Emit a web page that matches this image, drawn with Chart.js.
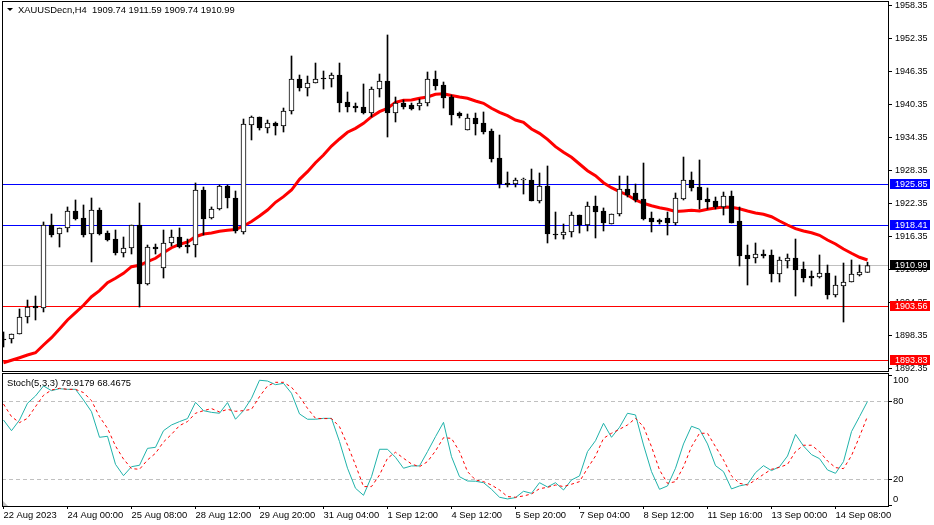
<!DOCTYPE html>
<html>
<head>
<meta charset="utf-8">
<title>XAUUSDecn,H4</title>
<script src="https://cdn.jsdelivr.net/npm/chart.js@4"></script>
<style>
  html, body { margin: 0; padding: 0; background: #fff; }
  body { width: 934px; height: 525px; overflow: hidden; position: relative; }
  canvas { position: absolute; left: 0; }
  #priceChart { top: 0; }
  #stochChart { top: 372px; }
</style>
</head>
<body>
<canvas id="priceChart" width="934" height="372"></canvas>
<canvas id="stochChart" width="934" height="153"></canvas>
<script>
const opens = [
  1897.62,1897.62,1898.53,1901.63,1903.62,1903.26,1918.35,1916.71,1917.81,1920.90,
  1919.63,1916.71,1921.08,1916.89,1915.80,1913.26,1914.17,1918.35,1907.62,1914.35,
  1910.53,1915.08,1916.17,1914.71,1914.71,1924.71,1919.63,1921.26,1925.44,1923.26,
  1917.08,1936.53,1937.99,1935.99,1936.89,1936.35,1939.08,1944.89,1943.26,1944.17,
  1945.08,1944.89,1945.62,1940.71,1939.99,1939.80,1938.71,1943.08,1944.53,1938.71,
  1940.53,1940.17,1939.99,1940.53,1944.89,1943.80,1941.62,1938.71,1935.62,1937.81,
  1936.89,1935.44,1930.53,1925.99,1925.80,1926.53,1926.53,1922.72,1925.44,1916.71,
  1916.53,1917.08,1920.17,1918.35,1921.81,1920.90,1918.53,1920.35,1924.89,1924.17,
  1923.08,1919.63,1919.26,1919.63,1918.71,1923.08,1926.53,1925.26,1923.08,1922.72,
  1921.63,1923.62,1919.08,1912.90,1912.35,1913.08,1912.90,1909.44,1911.81,1912.35,
  1910.35,1909.08,1908.90,1909.62,1905.62,1907.26,1907.99,1909.26,1909.74
];
const highs = [
  1898.90,1898.53,1903.08,1904.71,1905.44,1918.90,1920.35,1917.81,1921.63,1922.90,
  1921.99,1923.26,1921.45,1917.26,1917.44,1916.17,1918.35,1922.35,1914.71,1914.89,
  1917.44,1917.44,1917.81,1915.80,1925.99,1925.26,1921.63,1925.62,1925.62,1924.53,
  1937.62,1938.17,1937.99,1937.44,1937.08,1939.62,1949.08,1945.62,1945.44,1947.80,
  1946.35,1945.99,1947.80,1942.53,1940.53,1943.99,1943.44,1945.80,1952.90,1941.62,
  1941.08,1940.53,1941.26,1946.17,1946.35,1944.35,1941.99,1938.90,1938.53,1938.71,
  1938.90,1935.80,1934.71,1927.99,1926.89,1926.89,1928.53,1927.81,1929.08,1920.71,
  1918.53,1920.71,1920.17,1922.53,1923.62,1921.45,1920.35,1927.26,1927.26,1925.80,
  1929.62,1920.71,1919.44,1920.71,1924.17,1930.71,1927.99,1930.17,1925.08,1923.44,
  1924.35,1924.53,1921.63,1914.71,1915.08,1913.81,1913.81,1912.53,1913.08,1915.80,
  1911.63,1909.99,1912.90,1911.08,1909.08,1911.44,1911.99,1911.08,1911.59
];
const lows = [
  1896.17,1896.89,1898.53,1900.53,1901.08,1902.54,1916.17,1914.35,1917.08,1919.26,
  1916.17,1911.63,1916.53,1915.44,1912.90,1912.53,1913.08,1903.44,1907.44,1913.08,
  1908.71,1914.53,1914.17,1913.26,1912.53,1916.53,1919.44,1921.08,1921.45,1916.89,
  1916.71,1933.81,1935.62,1935.08,1934.71,1935.26,1938.53,1942.71,1941.80,1944.17,
  1943.08,1943.44,1938.90,1938.90,1938.90,1938.53,1937.99,1941.62,1934.35,1937.08,
  1939.44,1939.26,1939.26,1939.99,1942.90,1939.62,1936.53,1937.81,1935.62,1934.71,
  1934.90,1929.80,1925.08,1925.26,1925.26,1923.98,1922.72,1922.35,1915.08,1915.80,
  1915.80,1916.17,1916.89,1917.26,1915.99,1917.26,1918.53,1919.99,1923.44,1922.53,
  1919.26,1917.08,1918.53,1916.53,1918.35,1922.90,1924.53,1921.26,1921.26,1921.26,
  1920.17,1918.71,1910.90,1907.44,1911.44,1912.35,1907.99,1907.99,1910.53,1905.44,
  1907.99,1907.26,1908.71,1904.89,1905.26,1900.71,1907.99,1909.08,1909.74
];
const closes = [
  1897.44,1898.53,1901.63,1903.44,1903.26,1918.35,1916.53,1917.81,1920.90,1919.44,
  1916.53,1921.08,1916.71,1915.62,1913.26,1914.17,1918.35,1907.62,1914.35,1913.99,
  1915.08,1916.17,1914.35,1914.35,1924.71,1919.44,1921.26,1925.44,1923.26,1917.26,
  1936.71,1937.99,1935.99,1936.89,1936.35,1939.08,1944.89,1943.26,1944.17,1944.89,
  1944.89,1945.62,1940.53,1939.80,1939.62,1938.71,1943.08,1944.53,1938.71,1940.53,
  1939.80,1939.44,1940.53,1944.89,1943.62,1941.44,1938.35,1938.17,1937.81,1936.71,
  1935.26,1930.35,1925.80,1925.62,1926.53,1926.71,1922.72,1925.44,1916.71,1916.53,
  1917.08,1920.17,1918.35,1921.81,1920.71,1918.71,1920.35,1924.89,1923.80,1922.90,
  1919.44,1918.90,1918.90,1918.71,1923.26,1926.53,1925.08,1922.90,1922.53,1921.63,
  1923.62,1918.71,1912.71,1912.17,1913.08,1912.71,1909.44,1911.99,1912.35,1910.17,
  1908.71,1908.71,1909.62,1905.62,1907.44,1907.99,1909.44,1909.81,1910.99
];
const maValues = [
  1893.31,1893.75,1894.22,1894.71,1895.13,1896.53,1897.86,1899.44,1901.08,1902.41,
  1903.75,1905.31,1906.41,1907.86,1908.66,1909.57,1910.77,1911.02,1911.68,1912.30,
  1913.31,1914.22,1914.84,1915.26,1916.22,1916.71,1916.89,1917.20,1917.39,1917.53,
  1918.17,1918.99,1919.99,1921.08,1922.48,1923.50,1924.71,1926.66,1928.04,1929.68,
  1931.08,1932.71,1933.99,1935.21,1935.93,1936.84,1938.04,1938.95,1939.57,1940.66,
  1941.02,1941.08,1941.39,1941.62,1942.11,1942.22,1941.90,1941.62,1941.39,1940.90,
  1940.48,1939.57,1938.84,1938.22,1937.44,1937.02,1935.81,1935.02,1933.93,1932.59,
  1931.57,1930.66,1929.44,1928.22,1927.31,1926.04,1925.13,1924.41,1923.81,1922.90,
  1922.30,1921.86,1921.50,1921.21,1920.81,1920.90,1921.02,1920.90,1921.21,1921.44,
  1921.62,1921.57,1921.31,1920.90,1920.53,1920.30,1919.86,1919.08,1918.35,1917.68,
  1917.26,1916.95,1916.48,1915.62,1914.90,1913.99,1913.21,1912.48,1911.99
];
const stochMain = [
  65.6,57.4,65.6,78.5,84.1,91.8,88.2,89.7,89.2,89.2,
  81.0,72.0,52.3,53.1,31.5,22.8,29.7,30.8,43.8,44.6,
  57.4,61.8,64.4,66.7,79.2,72.8,71.5,70.8,79.0,66.2,
  72.8,82.3,96.2,95.6,92.8,93.8,86.2,70.3,66.2,66.2,
  66.9,66.9,49.0,28.5,13.1,7.7,22.0,43.1,43.1,36.9,
  28.5,30.3,30.3,41.3,52.8,63.8,37.4,22.0,18.7,18.5,
  17.4,12.3,6.2,4.9,5.9,10.8,9.2,17.4,14.1,17.4,
  11.8,19.5,22.6,41.3,49.7,63.1,52.3,60.0,70.8,69.5,
  46.4,25.9,12.3,14.9,28.5,47.2,60.8,58.5,47.2,30.5,
  25.9,12.6,14.9,16.2,25.1,30.5,26.7,29.7,37.9,54.6,
  45.6,39.0,35.9,27.2,24.6,33.6,56.7,68.2,79.92
];
const stochSignal = [
  77.9,68.2,63.6,66.9,75.9,84.6,88.7,90.0,89.2,89.2,
  86.7,80.5,68.2,59.2,45.6,35.6,28.2,27.7,34.9,40.0,
  48.7,54.6,61.3,64.4,70.8,72.8,74.4,71.8,73.8,72.3,
  72.8,73.8,83.6,91.8,94.6,94.6,90.8,83.6,74.6,66.9,
  66.7,66.7,60.5,46.4,31.0,14.4,14.4,23.3,36.2,40.8,
  36.2,31.8,29.7,33.6,41.8,52.0,51.5,41.3,25.9,19.5,
  18.2,15.6,11.8,6.7,6.2,7.2,8.7,12.8,13.8,15.6,
  14.4,16.2,18.2,28.5,37.9,51.5,55.4,58.5,61.8,66.9,
  60.5,45.1,27.2,16.9,18.2,29.7,45.1,55.4,55.4,45.1,
  34.9,22.6,16.9,15.6,19.5,23.8,27.7,29.2,31.5,41.3,
  46.2,46.2,41.3,34.1,29.0,28.2,38.2,52.8,68.47
];
const priceTicks = [1958.35,1952.35,1946.35,1940.35,1934.35,1928.35,1922.35,1916.35,1910.35,1904.35,1898.35,1892.35];
const stochTicks = [100, 80, 20, 0];
const stochLevels = [80, 20];
const dateTickBars = [0,8,16,24,32,40,48,56,64,72,80,88,96,104];
const dateLabels = ['22 Aug 2023','24 Aug 00:00','25 Aug 08:00','28 Aug 12:00','29 Aug 20:00','31 Aug 04:00','1 Sep 12:00','4 Sep 12:00','5 Sep 20:00','7 Sep 04:00','8 Sep 12:00','11 Sep 16:00','13 Sep 00:00','14 Sep 08:00'];
const levelPrices = [1925.85, 1918.41, 1903.56, 1893.83];
const levelColors = ['#0000ff', '#0000ff', '#ff0000', '#ff0000'];
const lastPrice = 1910.99;
const titleText = 'XAUUSDecn,H4  1909.74 1911.59 1909.74 1910.99';
const stochText = 'Stoch(5,3,3) 79.9179 68.4675';

const FONT = 'Liberation Sans, Arial, sans-serif';
const xMin = -0.1875;
const xMax = 110.5625;

function crisp(v) {
  return Math.round(v) + 0.5;
}

// tick labels must not push the plot area in, panels are fixed size
function noScalePadding(scale) {
  scale.paddingTop = 0;
  scale.paddingBottom = 0;
  scale.paddingLeft = 0;
  scale.paddingRight = 0;
}

function xScale(display) {
  return {
    type: 'linear',
    display: display,
    offset: false,
    min: xMin,
    max: xMax,
    afterBuildTicks: (scale) => { scale.ticks = dateTickBars.map(v => ({ value: v })); },
    afterFit: (scale) => {
      scale.height = display ? 19 : 0;
      noScalePadding(scale);
    },
    border: { display: false },
    grid: { offset: false, drawOnChartArea: false, tickLength: 3, tickColor: '#000' },
    ticks: {
      autoSkip: false,
      maxRotation: 0,
      align: 'start',
      padding: 1,
      color: '#000',
      font: { family: FONT, size: 9.4 },
      callback: (v) => dateLabels[dateTickBars.indexOf(v)]
    }
  };
}

const priceLines = {
  id: 'priceLines',
  beforeDatasetsDraw(chart) {
    const { ctx, chartArea: a, scales: { y } } = chart;
    ctx.save();
    ctx.lineWidth = 1;
    ctx.strokeStyle = '#c0c0c0';
    ctx.beginPath();
    ctx.moveTo(a.left, crisp(y.getPixelForValue(lastPrice)));
    ctx.lineTo(a.right, crisp(y.getPixelForValue(lastPrice)));
    ctx.stroke();
    levelPrices.forEach((p, i) => {
      const py = crisp(y.getPixelForValue(p));
      ctx.strokeStyle = levelColors[i];
      ctx.beginPath();
      ctx.moveTo(a.left, py);
      ctx.lineTo(a.right, py);
      ctx.stroke();
    });
    ctx.restore();
  },
  afterDraw(chart) {
    const { ctx, chartArea: a, scales: { y } } = chart;
    ctx.save();
    ctx.strokeStyle = '#000';
    ctx.strokeRect(a.left + 0.5, a.top + 0.5, a.width, a.height - 1);

    ctx.textBaseline = 'middle';
    const boxes = levelPrices.map((p, i) => [p, levelColors[i]]).concat([[lastPrice, '#000']]);
    boxes.forEach(([p, color]) => {
      const py = crisp(y.getPixelForValue(p));
      ctx.fillStyle = color;
      ctx.fillRect(890, py - 5.5, 40, 10);
      ctx.fillStyle = '#fff';
      ctx.font = '9px ' + FONT;
      ctx.fillText(p.toFixed(2), 895, py);
    });

    ctx.fillStyle = '#000';
    ctx.beginPath();
    ctx.moveTo(7, 8);
    ctx.lineTo(13, 8);
    ctx.lineTo(10, 11);
    ctx.closePath();
    ctx.fill();
    ctx.font = '9.4px ' + FONT;
    ctx.fillText(titleText, 18, 10);
    ctx.restore();
  }
};

const stochLines = {
  id: 'stochLines',
  beforeDatasetsDraw(chart) {
    const { ctx, chartArea: a, scales: { y } } = chart;
    ctx.save();
    ctx.lineWidth = 1;
    ctx.strokeStyle = '#c0c0c0';
    ctx.setLineDash([4, 3]);
    stochLevels.forEach(v => {
      const py = crisp(y.getPixelForValue(v));
      ctx.beginPath();
      ctx.moveTo(a.left, py);
      ctx.lineTo(a.right, py);
      ctx.stroke();
    });
    ctx.restore();
  },
  afterDraw(chart) {
    const { ctx, chartArea: a, scales: { y } } = chart;
    ctx.save();
    ctx.strokeStyle = '#000';
    ctx.strokeRect(a.left + 0.5, a.top - 0.5, a.width, a.height + 1);

    // corner marker
    ctx.fillStyle = '#c0c0c0';
    ctx.beginPath();
    ctx.moveTo(a.left + 1, a.bottom);
    ctx.lineTo(a.left + 6, a.bottom);
    ctx.lineTo(a.left + 1, a.bottom - 5);
    ctx.closePath();
    ctx.fill();

    ctx.fillStyle = '#000';
    ctx.font = '9.4px ' + FONT;
    ctx.textBaseline = 'middle';
    ctx.fillText(stochText, 7, 11);
    // 100 and 0 sit inside the panel in the terminal
    stochTicks.forEach(v => {
      let py = y.getPixelForValue(v);
      if (v === 100) py += 5;
      if (v === 0) py -= 6;
      ctx.fillText(String(v), 893, py);
    });
    ctx.restore();
  }
};

const barIndex = opens.map((_, i) => i);

window.priceChart = new Chart(document.getElementById('priceChart'), {
  data: {
    datasets: [
      {
        type: 'bar',
        order: 1,
        grouped: false,
        barThickness: 5,
        borderWidth: 1,
        borderSkipped: false,
        borderColor: '#000',
        backgroundColor: barIndex.map(i => closes[i] >= opens[i] ? '#fff' : '#000'),
        data: barIndex.map(i => ({ x: i, y: [opens[i], closes[i]] }))
      },
      {
        type: 'bar',
        order: 2,
        grouped: false,
        barThickness: 1,
        borderWidth: 0,
        backgroundColor: '#000',
        data: barIndex.map(i => ({ x: i, y: [lows[i], highs[i]] }))
      },
      {
        type: 'line',
        order: 3,
        borderColor: '#ff0000',
        borderWidth: 3,
        pointRadius: 0,
        tension: 0,
        data: barIndex.map(i => ({ x: i, y: maValues[i] }))
      }
    ]
  },
  options: {
    responsive: false,
    animation: false,
    devicePixelRatio: 1,
    layout: { padding: { left: 2, top: 1, right: 0, bottom: 0 } },
    plugins: { legend: { display: false }, tooltip: { enabled: false } },
    scales: {
      x: xScale(false),
      y: {
        position: 'right',
        min: 1891.6236,
        max: 1959.0782,
        afterBuildTicks: (scale) => { scale.ticks = priceTicks.map(v => ({ value: v })); },
        afterFit: (scale) => {
          scale.width = 46;
          noScalePadding(scale);
        },
        border: { display: false },
        grid: { drawOnChartArea: false, tickLength: 4, tickColor: '#000' },
        ticks: {
          padding: 3,
          labelOffset: 1,
          color: '#000',
          font: { family: FONT, size: 9 },
          callback: (v) => v.toFixed(2)
        }
      }
    }
  },
  plugins: [priceLines]
});

window.stochChart = new Chart(document.getElementById('stochChart'), {
  type: 'line',
  data: {
    datasets: [
      {
        order: 2,
        borderColor: '#20b2aa',
        borderWidth: 1,
        pointRadius: 0,
        tension: 0,
        data: barIndex.map(i => ({ x: i, y: stochMain[i] }))
      },
      {
        order: 1,
        borderColor: '#ff0000',
        borderWidth: 1,
        borderDash: [3, 3],
        pointRadius: 0,
        tension: 0,
        data: barIndex.map(i => ({ x: i, y: stochSignal[i] }))
      }
    ]
  },
  options: {
    responsive: false,
    animation: false,
    devicePixelRatio: 1,
    layout: { padding: { left: 2, top: 2, right: 0, bottom: 0 } },
    plugins: { legend: { display: false }, tooltip: { enabled: false } },
    scales: {
      x: xScale(true),
      y: {
        position: 'right',
        min: -0.54,
        max: 101,
        afterBuildTicks: (scale) => { scale.ticks = stochTicks.map(v => ({ value: v })); },
        afterFit: (scale) => {
          scale.width = 46;
          noScalePadding(scale);
        },
        border: { display: false },
        grid: { drawOnChartArea: false, tickLength: 4, tickColor: '#000' },
        ticks: { display: false }
      }
    }
  },
  plugins: [stochLines]
});
</script>
</body>
</html>
